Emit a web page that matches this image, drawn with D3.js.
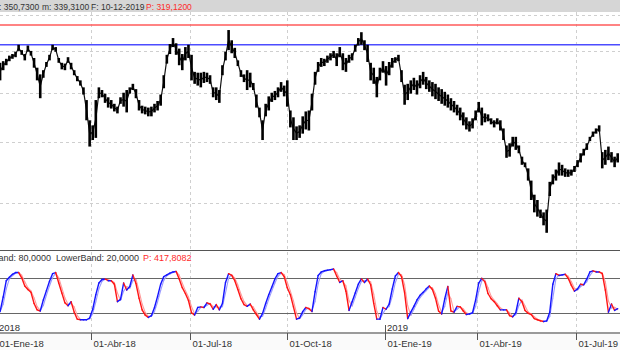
<!DOCTYPE html>
<html>
<head>
<meta charset="utf-8">
<script src="https://cdn.jsdelivr.net/npm/d3@7"></script>
<style>
  body { margin: 0; background: #fff; }
  svg { display: block; font-family: "Liberation Sans", Arial, sans-serif; }
</style>
</head>
<body>
<svg id="chart" width="620" height="350"></svg>
<script>
// one sample every second trading day, starting at trading day 2 of 2018
const firstDay = 2;
const dayStep = 2;

// price range of each sample (high / low)
const highs = [
  335,337,340,344,346,349,358,351,346,357,
  350,341,329,321,326,336,345,358,355,341,
  335,334,342,335,326,319,314,306,292,271,
  266,292,306,303,299,295,292,288,285,295,
  300,303,306,310,304,292,286,285,284,285,
  288,291,298,320,345,359,367,360,353,346,
  355,358,345,324,323,323,324,323,320,306,
  306,303,332,349,378,364,354,338,326,321,
  326,323,311,298,284,271,288,296,300,302,
  306,312,308,314,281,274,265,266,275,280,
  281,299,324,336,341,340,344,347,350,347,
  355,347,341,345,347,358,367,375,364,358,
  335,329,318,329,337,331,336,341,342,345,
  326,309,310,314,317,314,320,324,318,314,
  312,310,306,304,301,298,294,291,287,284,
  279,274,270,273,281,290,284,278,277,273,
  271,273,271,263,247,249,255,255,247,237,
  232,227,217,206,202,195,193,195,216,222,
  226,232,230,227,226,226,229,234,240,244,
  249,255,260,263,266,241,243,246,241,237,
  240
];
const lows = [
  314,326,332,337,340,342,350,345,338,349,
  344,329,314,294,317,330,338,351,349,335,
  327,326,335,327,320,313,308,298,271,246,
  252,254,294,295,289,284,283,280,278,288,
  285,279,299,303,294,281,278,277,275,275,
  279,281,286,305,334,346,355,345,332,326,
  338,341,314,310,308,306,311,312,310,295,
  292,289,320,338,351,347,341,331,318,312,
  303,306,303,284,274,252,275,281,290,292,
  295,301,296,285,264,252,252,254,258,262,
  261,281,309,324,330,331,335,338,341,331,
  342,326,324,335,338,349,357,358,351,336,
  314,310,295,314,323,308,320,329,335,337,
  312,287,292,299,303,298,305,309,304,301,
  296,293,291,288,286,284,281,279,276,271,
  266,262,260,263,271,279,266,269,270,267,
  264,267,261,252,236,237,246,243,240,230,
  228,217,202,193,190,189,184,179,205,214,
  217,221,221,220,220,221,224,228,232,238,
  243,251,255,258,260,227,230,234,232,228,
  232
];

// stochastic %K
const stochK = [
  23,48,76,82,87,90,90,81,67,61,
  56,37,26,24,43,59,75,88,90,72,
  55,38,33,40,22,10,9,9,9,12,
  27,52,72,78,79,76,76,70,40,44,
  72,60,66,86,71,46,26,17,13,16,
  30,49,70,83,86,89,91,92,79,64,
  54,42,21,17,30,31,30,38,36,27,
  35,26,37,73,88,85,76,61,45,35,
  32,36,26,18,10,20,37,52,65,79,
  88,90,83,64,52,31,10,12,23,30,
  28,23,57,85,91,93,94,95,96,84,
  73,76,58,25,40,55,70,79,73,79,
  69,37,10,10,30,27,36,62,84,90,
  83,55,11,22,32,43,51,56,62,67,
  61,46,24,19,45,66,24,22,32,31,
  24,18,19,21,43,72,80,74,54,45,
  40,33,26,26,26,16,14,21,46,40,
  25,20,18,11,9,7,6,7,22,70,
  88,85,86,87,80,68,58,62,70,69,
  79,91,93,91,91,88,60,22,36,25,
  28
];

const tickDays = [0, 61, 125, 188, 251, 311, 375];
const tickLabels = ["01-Ene-18", "01-Abr-18", "01-Jul-18", "01-Oct-18", "01-Ene-19", "01-Abr-19", "01-Jul-19"];
const yearDays = [0, 251];
const yearLabels = ["2018", "2019"];

const priceGrid = [400, 350, 300, 250, 200];
const redLevel = 385;
const blueLevel = 358;
const bands = [80, 20];

const headerTexts = ["M: 350,7300", "m: 339,3100", "F: 10-12-2019", "P: 319,1200"];
const oscTexts = ["UpperBand: 80,0000", "LowerBand: 20,0000", "P: 417,8082"];

const W = 620, H = 350;
const svg = d3.select("#chart");

const x = d3.scaleLinear().domain([0, 400]).range([-3, -3 + 400 * 1.544]);
const yP = d3.scaleLog().domain([168, 404]).range([250, 12]);
const yO = d3.scaleLinear().domain([0, 100]).range([325, 266.7]);

const dayOf = i => firstDay + i * dayStep;

svg.append("rect").attr("width", W).attr("height", H).attr("fill", "#fff");

// gridlines (no vertical line on year starts)
const grid = svg.append("g").attr("stroke", "#cfcfcf").attr("stroke-dasharray", "3,3");
grid.selectAll(".h").data(priceGrid).enter().append("line")
  .attr("x1", 0).attr("x2", W)
  .attr("y1", d => Math.round(yP(d)) + 0.5).attr("y2", d => Math.round(yP(d)) + 0.5);
grid.selectAll(".v").data(tickDays.filter(d => !yearDays.includes(d))).enter().append("line")
  .attr("x1", d => Math.round(x(d)) + 0.5).attr("x2", d => Math.round(x(d)) + 0.5)
  .attr("y1", 12).attr("y2", 333);

// price panel
const main = svg.append("g");
main.append("line").attr("x1", 0).attr("x2", W)
  .attr("y1", yP(redLevel)).attr("y2", yP(redLevel))
  .attr("stroke", "#ff5a5a").attr("stroke-width", 1.5);
main.append("line").attr("x1", 0).attr("x2", W)
  .attr("y1", yP(blueLevel)).attr("y2", yP(blueLevel))
  .attr("stroke", "#4d4dff").attr("stroke-width", 1.5);

// daily path through the middle of each range, then the range bars on top
const mid = highs.map((h, i) => Math.sqrt(h * lows[i]));
main.append("path")
  .attr("d", d3.line().x((d, i) => x(dayOf(i))).y(d => yP(d))(mid))
  .attr("fill", "none").attr("stroke", "#111").attr("stroke-width", 1.2);

main.selectAll(".bar").data(highs).enter().append("rect")
  .attr("x", (d, i) => x(dayOf(i)) - 1.3)
  .attr("width", 2.6)
  .attr("y", d => yP(d))
  .attr("height", (d, i) => Math.max(1, yP(lows[i]) - yP(d)))
  .attr("fill", "#000");

// oscillator panel
svg.append("line").attr("x1", 0).attr("x2", W).attr("y1", 250.5).attr("y2", 250.5)
  .attr("stroke", "#555").attr("stroke-width", 1.2);
svg.selectAll(".band").data(bands).enter().append("line")
  .attr("x1", 0).attr("x2", W)
  .attr("y1", d => Math.round(yO(d)) + 0.5).attr("y2", d => Math.round(yO(d)) + 0.5)
  .attr("stroke", "#666");

const stochD = stochK.map((v, i) => i === 0 ? v : d3.mean([stochK[i - 1], v]));

function drawOsc(vals, up, down, width) {
  const segs = vals.slice(1).map((v, i) => ({ a: vals[i], b: v, i: i }));
  svg.append("g").selectAll("line").data(segs).enter().append("line")
    .attr("x1", d => x(dayOf(d.i))).attr("x2", d => x(dayOf(d.i + 1)))
    .attr("y1", d => yO(d.a)).attr("y2", d => yO(d.b))
    .attr("stroke", d => d.b >= d.a ? up : down)
    .attr("stroke-width", width).attr("stroke-linecap", "round");
}
drawOsc(stochD, "#9a9aff", "#ff9a9a", 1.1);
drawOsc(stochK, "#1414ff", "#ff1414", 1.4);

const ot = svg.append("text").attr("y", 260.5).attr("font-size", 9).attr("fill", "#333");
ot.append("tspan").attr("x", -32).text(oscTexts[0]);
ot.append("tspan").attr("x", 56).text(oscTexts[1]);
ot.append("tspan").attr("x", 143).attr("fill", "#ff2a2a").text(oscTexts[2]);

// x axis
svg.append("rect").attr("x", 0).attr("y", 333).attr("width", W).attr("height", 17).attr("fill", "#fafafa");
svg.append("line").attr("x1", 0).attr("x2", W).attr("y1", 333).attr("y2", 333)
  .attr("stroke", "#9a9a9a").attr("stroke-width", 1.8);
const ax = svg.append("g");
ax.selectAll(".t").data(tickDays).enter().append("line")
  .attr("x1", d => Math.round(x(d)) + 0.5).attr("x2", d => Math.round(x(d)) + 0.5)
  .attr("y1", d => yearDays.includes(d) ? 325 : 333).attr("y2", 340)
  .attr("stroke", "#555");
ax.selectAll(".l").data(tickDays).enter().append("text")
  .attr("x", d => Math.round(x(d)) + 2.5).attr("y", 346.5)
  .attr("font-size", 9.5).attr("fill", "#333")
  .text((d, i) => tickLabels[i]);
ax.selectAll(".y").data(yearDays).enter().append("text")
  .attr("x", d => Math.round(x(d)) + 2).attr("y", 330.5)
  .attr("font-size", 9.5).attr("fill", "#333")
  .text((d, i) => yearLabels[i]);

// header bar
svg.append("rect").attr("x", 0).attr("y", 0).attr("width", W).attr("height", 12).attr("fill", "#d6d6d6");
const headerX = [-8, 42, 91, 146];
svg.append("g").selectAll("text").data(headerTexts).enter().append("text")
  .attr("x", (d, i) => headerX[i]).attr("y", 9.5)
  .attr("font-size", 8.5)
  .attr("fill", (d, i) => i === 3 ? "#ff2a2a" : "#333")
  .text(d => d);
</script>
</body>
</html>
